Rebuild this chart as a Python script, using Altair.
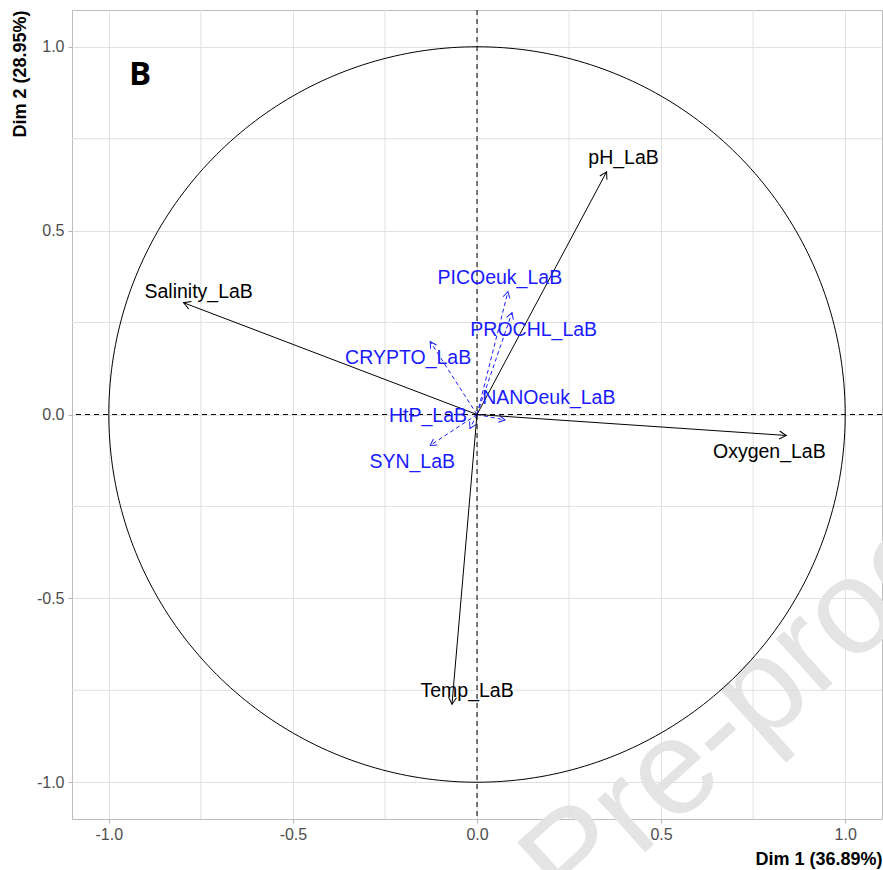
import altair as alt
import pandas as pd

# Active variables (black arrows)
active_vars = ["pH_LaB", "Salinity_LaB", "Oxygen_LaB", "Temp_LaB"]
active_dim1 = [0.352, -0.797, 0.840, -0.068]
active_dim2 = [0.660, 0.304, -0.057, -0.788]
active_lab_dim1 = [0.398, -0.756, 0.794, -0.027]
active_lab_dim2 = [0.698, 0.332, -0.103, -0.753]

# Supplementary variables (blue dashed arrows)
supp_vars = ["PICOeuk_LaB", "PROCHL_LaB", "CRYPTO_LaB", "NANOeuk_LaB", "HtP_LaB", "SYN_LaB"]
supp_dim1 = [0.084, 0.095, -0.127, 0.076, -0.019, -0.127]
supp_dim2 = [0.334, 0.277, 0.198, -0.015, -0.038, -0.084]
supp_lab_dim1 = [0.062, 0.154, -0.187, 0.195, -0.133, -0.176]
supp_lab_dim2 = [0.372, 0.231, 0.155, 0.046, -0.005, -0.130]

major_ticks = [-1.0, -0.5, 0.0, 0.5, 1.0]
minor_grid = [-0.75, -0.25, 0.25, 0.75]

x_title = "Dim 1 (36.89%)"
y_title = "Dim 2 (28.95%)"
panel_tag = "B"
watermark = "Pre-proof"

FONT = "Liberation Sans"
DOM = [-1.1, 1.1]
BLUE = "#1a1aff"
HEAD = "M -0.5 0.866 L 0 0 L 0.5 0.866"
LABEL_EXPR = "datum.value < 0 ? '-' + format(-datum.value, '.1f') : format(datum.value, '.1f')"

xaxis = alt.Axis(values=major_ticks, labelExpr=LABEL_EXPR, title=x_title,
                 titleX=810, titleY=40, titleAlign="right", titleBaseline="middle")
yaxis = alt.Axis(values=major_ticks, labelExpr=LABEL_EXPR, title=y_title,
                 titleX=-52, titleY=0, titleAlign="right", titleBaseline="middle",
                 titleAngle=270)


def X(field):
    return alt.X(field, type="quantitative", scale=alt.Scale(domain=DOM, nice=False, zero=False), axis=xaxis)


def Y(field):
    return alt.Y(field, type="quantitative", scale=alt.Scale(domain=DOM, nice=False, zero=False), axis=yaxis)


active = pd.DataFrame({"name": active_vars, "d1": active_dim1, "d2": active_dim2,
                       "lx": active_lab_dim1, "ly": active_lab_dim2})
supp = pd.DataFrame({"name": supp_vars, "d1": supp_dim1, "d2": supp_dim2,
                     "lx": supp_lab_dim1, "ly": supp_lab_dim2})
minor = pd.DataFrame({"g": minor_grid})

ANG = "(atan2(datum.d1, datum.d2) * 180 / PI + 360) % 360"

# watermark
wm = alt.Chart(pd.DataFrame({"t": [watermark]})).mark_text(
    font=FONT, fontSize=135, color="#e4e4e4", angle=318, align="center", baseline="middle"
).encode(x=alt.value(681), y=alt.value(690), text="t:N")

# minor grid lines
gx = alt.Chart(minor).mark_rule(color="#e0e0e0", strokeWidth=1).encode(x=X("g"))
gy = alt.Chart(minor).mark_rule(color="#e0e0e0", strokeWidth=1).encode(y=Y("g"))

# correlation circle
circle = alt.Chart(alt.sequence(0, 361, 1, as_="t")).transform_calculate(
    cx="cos(datum.t * PI / 180)", cy="sin(datum.t * PI / 180)"
).mark_line(color="black", strokeWidth=1).encode(x=X("cx"), y=Y("cy"), order="t:Q")

# dashed origin lines
vline = alt.Chart(pd.DataFrame({"o": [0.0]})).mark_rule(color="black", strokeDash=[5, 4], strokeWidth=1).encode(x=X("o"))
hline = alt.Chart(pd.DataFrame({"o": [0.0]})).mark_rule(color="black", strokeDash=[5, 4], strokeWidth=1).encode(y=Y("o"))

# supplementary arrows
s_shaft = alt.Chart(supp).transform_calculate(o="0").mark_rule(
    color=BLUE, strokeDash=[4, 3], strokeWidth=1
).encode(x=X("o:Q"), y=Y("o:Q"), x2="d1:Q", y2="d2:Q")
s_head = alt.Chart(supp).transform_calculate(ang=ANG).mark_point(
    shape=HEAD, filled=False, size=200, strokeWidth=1, opacity=1, color=BLUE
).encode(x=X("d1"), y=Y("d2"), angle=alt.Angle("ang:Q", scale=None))
s_text = alt.Chart(supp).mark_text(font=FONT, fontSize=19.5, color=BLUE).encode(
    x=X("lx"), y=Y("ly"), text="name:N")

# active arrows
a_shaft = alt.Chart(active).transform_calculate(o="0").mark_rule(
    color="black", strokeWidth=1
).encode(x=X("o:Q"), y=Y("o:Q"), x2="d1:Q", y2="d2:Q")
a_head = alt.Chart(active).transform_calculate(ang=ANG).mark_point(
    shape=HEAD, filled=False, size=256, strokeWidth=1, opacity=1, color="black"
).encode(x=X("d1"), y=Y("d2"), angle=alt.Angle("ang:Q", scale=None))
a_text = alt.Chart(active).mark_text(font=FONT, fontSize=19.5, color="black").encode(
    x=X("lx"), y=Y("ly"), text="name:N")

tag = alt.Chart(pd.DataFrame({"t": [panel_tag]})).mark_text(
    font="Open Sans", fontSize=33, fontWeight="bold", color="black", align="center", baseline="middle"
).encode(x=alt.value(68), y=alt.value(65), text="t:N")

chart = alt.layer(
    wm, gx, gy, circle, vline, hline, s_shaft, s_head, a_shaft, a_head, s_text, a_text, tag
).properties(
    width=810, height=809,
    autosize=alt.AutoSizeParams(type="none"),
    padding={"left": 72, "top": 10, "right": 1, "bottom": 51},
).configure_view(
    stroke="#bdbdbd", strokeWidth=1
).configure_axis(
    domain=False, grid=True, gridColor="#e0e0e0", gridWidth=1,
    tickColor="#b3b3b3", tickSize=4, labelFont=FONT, labelFontSize=16,
    labelColor="#4d4d4d", labelPadding=3,
    titleFont=FONT, titleFontSize=18, titleFontWeight="bold", titleColor="black"
).configure_axisY(labelPadding=4)

chart.save("out.html", embed_options={"renderer": "svg", "actions": False})
